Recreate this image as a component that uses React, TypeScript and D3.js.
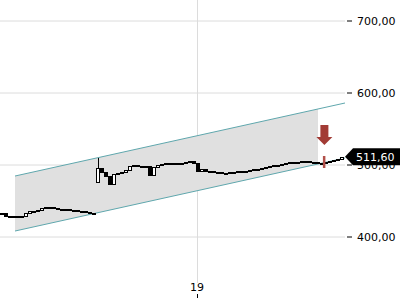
import React from "react";
import * as d3 from "d3";

const W = 400;
const H = 300;

// closing prices, evenly spaced candles
const closes: number[] = [
  433.3, 429.2, 429.2, 429.2, 429.2, 429.2, 433.3, 436.1, 436.1, 437.5,
  440.3, 441.7, 441.7, 440.3, 438.9, 438.9, 438.9, 437.5, 437.5, 436.1,
  436.1, 434.7, 433.3, 433.3, 495.8, 490.3, 484.7, 473.6, 487.5, 488.9,
  490.3, 493.1, 498.6, 500.0, 498.6, 498.6, 498.6, 486.1, 497.2, 500.0,
  501.4, 502.8, 502.8, 502.8, 502.8, 502.8, 504.2, 505.6, 502.8, 491.7,
  494.4, 491.7, 491.7, 490.3, 490.3, 488.9, 488.9, 490.3, 490.3, 491.7,
  491.7, 491.7, 493.1, 494.4, 494.4, 495.8, 497.2, 498.6, 500.0, 500.0,
  501.4, 502.8, 504.2, 504.2, 504.2, 505.6, 505.6, 504.2, 504.2, 502.8,
  502.8, 504.2, 505.6, 506.9, 508.3, 511.6,
];

// candles whose open does not equal the previous close (gaps)
const gapIndex: number[] = [24];
const gapOpen: number[] = [476.4];
// wicks
const wickIndex: number[] = [24, 49];
const wickHigh: number[] = [509.7, 498.6];
const wickLow: number[] = [476.4, 491.7];

const yTicks: number[] = [400, 500, 600, 700];
const yTickLabels: string[] = ["400,00", "500,00", "600,00", "700,00"];
const xTickPos: number[] = [48.75];
const xTickLabels: string[] = ["19"];

// trend channel (index, price)
const channelStart = 3.25;
const channelEnd = 85.75;
const channelFillEnd = 79;
const upperStart = 484.7;
const upperEnd = 586.1;
const lowerStart = 408.3;
const lowerEnd = 509.7;

const signalIndex = 80.6;
const lastPrice = 511.6;
const lastLabel = "511,60";

export default function App() {
  const x = d3.scaleLinear().domain([0, 85]).range([2, 342]);
  const y = d3.scaleLinear().domain([400, 700]).range([237, 21]);
  const plotRight = 345;

  const chanAt = (s: number, e: number, i: number) =>
    s + ((e - s) * (i - channelStart)) / (channelEnd - channelStart);

  const fillPts: [number, number][] = [
    [x(channelStart), y(upperStart)],
    [x(channelFillEnd), y(chanAt(upperStart, upperEnd, channelFillEnd))],
    [x(channelFillEnd), y(chanAt(lowerStart, lowerEnd, channelFillEnd))],
    [x(channelStart), y(lowerStart)],
  ];
  const poly = d3.line()(fillPts) + "Z";

  const candles = closes.map((c, i) => {
    const g = gapIndex.indexOf(i);
    const o = g >= 0 ? gapOpen[g] : i === 0 ? c : closes[i - 1];
    const top = Math.round(y(Math.max(o, c))) + 0.5;
    const bot = Math.round(y(Math.min(o, c))) + 0.5;
    return { i, o, c, top, h: Math.max(1, bot - top), up: c >= o };
  });

  const ly = y(lastPrice);
  const sx = x(signalIndex);

  return (
    <svg
      width={W}
      height={H}
      style={{ position: "absolute", left: 0, top: 0, background: "#fff" }}
      fontFamily="DejaVu Sans, sans-serif"
    >
      {/* grid */}
      {yTicks.map((t) => (
        <line key={t} x1={0} x2={plotRight} y1={y(t)} y2={y(t)} stroke="#dcdcdc" strokeWidth={1} />
      ))}
      {xTickPos.map((t) => (
        <line key={t} x1={Math.round(x(t)) + 0.5} x2={Math.round(x(t)) + 0.5} y1={0} y2={283} stroke="#dcdcdc" strokeWidth={1} />
      ))}

      {/* channel */}
      <path d={poly} fill="#e0e0e0" />
      <line
        x1={x(channelStart)} y1={y(upperStart)} x2={x(channelEnd)} y2={y(upperEnd)}
        stroke="#5fa7ad" strokeWidth={1}
      />
      <line
        x1={x(channelStart)} y1={y(lowerStart)} x2={x(channelEnd)} y2={y(lowerEnd)}
        stroke="#5fa7ad" strokeWidth={1}
      />

      {/* wicks */}
      {wickIndex.map((wi, k) => (
        <line key={"w" + k} x1={Math.round(x(wi)) + 0.5} x2={Math.round(x(wi)) + 0.5}
          y1={y(wickHigh[k])} y2={y(wickLow[k])} stroke="#000" strokeWidth={1} />
      ))}
      {/* candles */}
      {candles.map((d) => (
        <rect
          key={d.i}
          x={Math.round(x(d.i)) - 1.5}
          y={d.top}
          width={3}
          height={d.h}
          fill={d.up ? "#fff" : "#000"}
          stroke="#000"
          strokeWidth={1}
        />
      ))}

      {/* signal arrow */}
      <path
        d={`M${sx - 4},125 L${sx + 4},125 L${sx + 4},137 L${sx + 8},137 L${sx},145 L${sx - 8},137 L${sx - 4},137 Z`}
        fill="#a23b35"
      />
      <rect x={sx - 1.5} y={156} width={2.5} height={12} fill="#b2504a" />

      {/* y axis */}
      {yTicks.map((t, k) => (
        <g key={"yt" + t}>
          <line x1={347} x2={352} y1={y(t)} y2={y(t)} stroke="#000" strokeWidth={1} />
          <text x={357} y={y(t) + 4} fontSize={11} fill="#000">{yTickLabels[k]}</text>
        </g>
      ))}

      {/* last price tag */}
      <path d={`M345,${ly} L353,${ly - 8.5} L400,${ly - 8.5} L400,${ly + 8.5} L353,${ly + 8.5} Z`} fill="#000" />
      <text x={356} y={ly + 4} fontSize={11} fill="#fff">{lastLabel}</text>

      {/* x axis */}
      {xTickPos.map((t, k) => (
        <g key={"xt" + k}>
          <text x={x(t)} y={291} fontSize={11} textAnchor="middle" fill="#000">{xTickLabels[k]}</text>
          <line x1={Math.round(x(t)) + 0.5} x2={Math.round(x(t)) + 0.5} y1={294} y2={298} stroke="#000" strokeWidth={1} />
        </g>
      ))}
    </svg>
  );
}
